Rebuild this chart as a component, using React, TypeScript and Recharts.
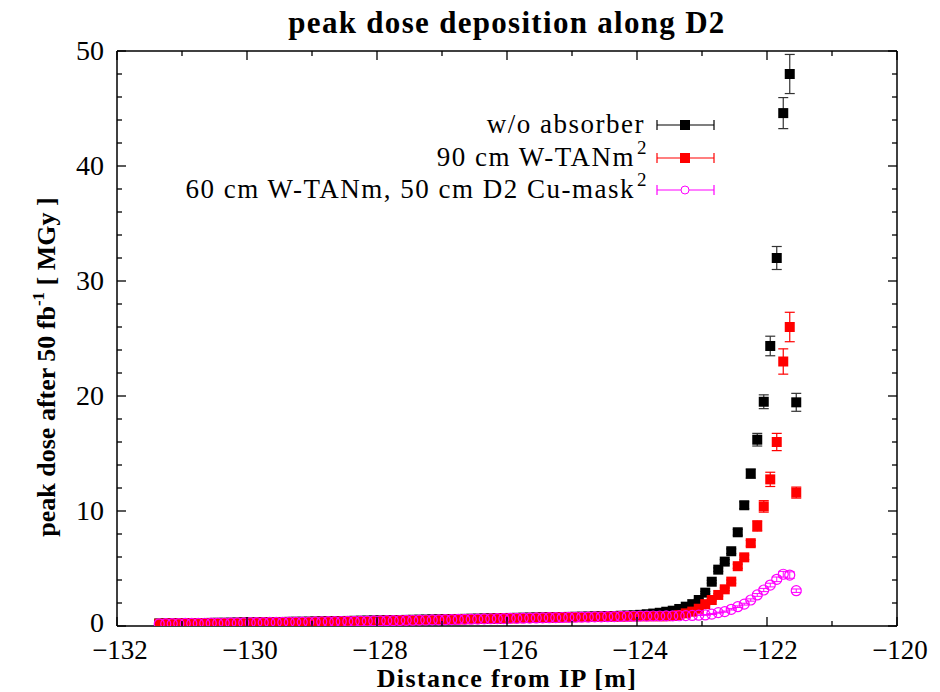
import React from 'react';
import { ScatterChart, Scatter, XAxis, YAxis, ErrorBar } from 'recharts';

// Distance from IP [m] (bin centres)
const positions = [
  -131.35, -131.25, -131.15, -131.05, -130.95, -130.85, -130.75, -130.65, -130.55, -130.45,
  -130.35, -130.25, -130.15, -130.05, -129.95, -129.85, -129.75, -129.65, -129.55, -129.45,
  -129.35, -129.25, -129.15, -129.05, -128.95, -128.85, -128.75, -128.65, -128.55, -128.45,
  -128.35, -128.25, -128.15, -128.05, -127.95, -127.85, -127.75, -127.65, -127.55, -127.45,
  -127.35, -127.25, -127.15, -127.05, -126.95, -126.85, -126.75, -126.65, -126.55, -126.45,
  -126.35, -126.25, -126.15, -126.05, -125.95, -125.85, -125.75, -125.65, -125.55, -125.45,
  -125.35, -125.25, -125.15, -125.05, -124.95, -124.85, -124.75, -124.65, -124.55, -124.45,
  -124.35, -124.25, -124.15, -124.05, -123.95, -123.85, -123.75, -123.65, -123.55, -123.45,
  -123.35, -123.25, -123.15, -123.05, -122.95, -122.85, -122.75, -122.65, -122.55, -122.45,
  -122.35, -122.25, -122.15, -122.05, -121.95, -121.85, -121.75, -121.65, -121.55,
];

// w/o absorber
const doseNoAbsorber = [
  0.22, 0.23, 0.23, 0.24, 0.24, 0.25, 0.26, 0.26, 0.27, 0.28,
  0.28, 0.29, 0.30, 0.31, 0.31, 0.32, 0.33, 0.34, 0.34, 0.35,
  0.36, 0.37, 0.37, 0.38, 0.39, 0.40, 0.41, 0.42, 0.43, 0.44,
  0.45, 0.46, 0.47, 0.48, 0.49, 0.50, 0.51, 0.52, 0.53, 0.54,
  0.55, 0.56, 0.57, 0.58, 0.59, 0.60, 0.61, 0.62, 0.63, 0.64,
  0.65, 0.66, 0.67, 0.68, 0.70, 0.71, 0.72, 0.73, 0.74, 0.75,
  0.76, 0.77, 0.78, 0.79, 0.80, 0.81, 0.82, 0.83, 0.84, 0.86,
  0.87, 0.89, 0.91, 0.93, 0.97, 1.02, 1.08, 1.15, 1.24, 1.33,
  1.48, 1.68, 1.9, 2.26, 2.9, 3.85, 4.9, 5.6, 6.5, 8.15,
  10.5, 13.25, 16.2, 19.5, 24.35, 32.0, 44.6, 48.0, 19.45,
];
const errNoAbsorber = [
  0.02, 0.02, 0.02, 0.02, 0.02, 0.02, 0.02, 0.02, 0.02, 0.02,
  0.02, 0.02, 0.02, 0.02, 0.02, 0.02, 0.02, 0.02, 0.02, 0.02,
  0.02, 0.02, 0.02, 0.02, 0.02, 0.02, 0.02, 0.02, 0.02, 0.02,
  0.02, 0.02, 0.02, 0.02, 0.02, 0.02, 0.02, 0.02, 0.02, 0.02,
  0.02, 0.02, 0.02, 0.02, 0.02, 0.02, 0.02, 0.02, 0.02, 0.02,
  0.03, 0.03, 0.03, 0.03, 0.03, 0.03, 0.03, 0.03, 0.03, 0.03,
  0.03, 0.03, 0.03, 0.03, 0.03, 0.03, 0.03, 0.03, 0.03, 0.03,
  0.03, 0.03, 0.03, 0.03, 0.03, 0.03, 0.04, 0.04, 0.05, 0.05,
  0.06, 0.07, 0.08, 0.09, 0.1, 0.12, 0.15, 0.17, 0.2, 0.25,
  0.3, 0.4, 0.55, 0.6, 0.85, 1.0, 1.35, 1.7, 0.78,
];

// 90 cm W-TANm^2
const doseW90 = [
  0.20, 0.21, 0.21, 0.22, 0.22, 0.23, 0.23, 0.24, 0.24, 0.25,
  0.26, 0.26, 0.27, 0.28, 0.28, 0.29, 0.30, 0.30, 0.31, 0.32,
  0.33, 0.33, 0.34, 0.35, 0.36, 0.37, 0.37, 0.38, 0.39, 0.40,
  0.41, 0.42, 0.43, 0.44, 0.45, 0.46, 0.47, 0.48, 0.49, 0.50,
  0.51, 0.52, 0.53, 0.54, 0.55, 0.56, 0.58, 0.59, 0.60, 0.61,
  0.62, 0.63, 0.65, 0.66, 0.67, 0.68, 0.69, 0.70, 0.71, 0.72,
  0.73, 0.74, 0.75, 0.76, 0.77, 0.77, 0.78, 0.79, 0.80, 0.80,
  0.81, 0.82, 0.83, 0.84, 0.85, 0.85, 0.85, 0.85, 0.85, 0.87,
  0.96, 1.1, 1.25, 1.5, 1.9, 2.26, 2.7, 3.19, 3.86, 5.2,
  5.97, 7.2, 8.7, 10.4, 12.75, 16.0, 23.0, 26.0, 11.6,
];
const errW90 = [
  0.02, 0.02, 0.02, 0.02, 0.02, 0.02, 0.02, 0.02, 0.02, 0.02,
  0.02, 0.02, 0.02, 0.02, 0.02, 0.02, 0.02, 0.02, 0.02, 0.02,
  0.02, 0.02, 0.02, 0.02, 0.02, 0.02, 0.02, 0.02, 0.02, 0.02,
  0.02, 0.02, 0.02, 0.02, 0.02, 0.02, 0.02, 0.02, 0.02, 0.02,
  0.02, 0.02, 0.02, 0.02, 0.02, 0.02, 0.02, 0.02, 0.02, 0.02,
  0.03, 0.03, 0.03, 0.03, 0.03, 0.03, 0.03, 0.03, 0.03, 0.03,
  0.03, 0.03, 0.03, 0.03, 0.03, 0.03, 0.03, 0.03, 0.03, 0.03,
  0.03, 0.03, 0.03, 0.03, 0.03, 0.03, 0.03, 0.03, 0.03, 0.03,
  0.04, 0.04, 0.05, 0.06, 0.07, 0.08, 0.1, 0.12, 0.14, 0.18,
  0.2, 0.25, 0.45, 0.5, 0.62, 0.75, 1.1, 1.28, 0.48,
];

// 60 cm W-TANm, 50 cm D2 Cu-mask^2
const doseW60Cu = [
  0.19, 0.20, 0.21, 0.21, 0.22, 0.23, 0.23, 0.24, 0.25, 0.25,
  0.26, 0.27, 0.27, 0.28, 0.29, 0.29, 0.30, 0.31, 0.31, 0.32,
  0.33, 0.34, 0.34, 0.35, 0.36, 0.37, 0.38, 0.38, 0.39, 0.40,
  0.41, 0.42, 0.43, 0.44, 0.45, 0.46, 0.47, 0.48, 0.49, 0.50,
  0.51, 0.52, 0.53, 0.54, 0.55, 0.56, 0.57, 0.58, 0.59, 0.60,
  0.62, 0.63, 0.64, 0.65, 0.66, 0.67, 0.68, 0.69, 0.70, 0.71,
  0.72, 0.73, 0.74, 0.75, 0.76, 0.77, 0.78, 0.79, 0.80, 0.81,
  0.82, 0.83, 0.84, 0.85, 0.86, 0.86, 0.87, 0.87, 0.88, 0.88,
  0.89, 0.90, 0.92, 0.94, 0.96, 1.04, 1.16, 1.25, 1.45, 1.68,
  1.9, 2.26, 2.7, 3.13, 3.56, 4.06, 4.5, 4.43, 3.07,
];
const errW60Cu = [
  0.02, 0.02, 0.02, 0.02, 0.02, 0.02, 0.02, 0.02, 0.02, 0.02,
  0.02, 0.02, 0.02, 0.02, 0.02, 0.02, 0.02, 0.02, 0.02, 0.02,
  0.02, 0.02, 0.02, 0.02, 0.02, 0.02, 0.02, 0.02, 0.02, 0.02,
  0.02, 0.02, 0.02, 0.02, 0.02, 0.02, 0.02, 0.02, 0.02, 0.02,
  0.02, 0.02, 0.02, 0.02, 0.02, 0.02, 0.02, 0.02, 0.02, 0.02,
  0.02, 0.02, 0.02, 0.02, 0.02, 0.02, 0.02, 0.02, 0.02, 0.02,
  0.03, 0.03, 0.03, 0.03, 0.03, 0.03, 0.03, 0.03, 0.03, 0.03,
  0.03, 0.03, 0.03, 0.03, 0.03, 0.03, 0.03, 0.03, 0.03, 0.03,
  0.03, 0.03, 0.03, 0.03, 0.03, 0.04, 0.04, 0.05, 0.06, 0.07,
  0.08, 0.1, 0.12, 0.14, 0.16, 0.2, 0.25, 0.28, 0.15,
];

const xTicks = [-132, -131, -130, -129, -128, -127, -126, -125, -124, -123, -122, -121, -120];
const xTickLabels = [-132, -130, -128, -126, -124, -122, -120];
const yTicks = [0, 2, 4, 6, 8, 10, 12, 14, 16, 18, 20, 22, 24, 26, 28, 30, 32, 34, 36, 38, 40, 42, 44, 46, 48, 50];
const yTickLabels = [0, 10, 20, 30, 40, 50];

const seriesNames = ['w/o absorber', '90 cm W-TANm', '60 cm W-TANm, 50 cm D2 Cu-mask'];
const COLORS = { black: '#000000', red: '#ff0000', magenta: '#ff00ff' };

const build = (vals: number[], errs: number[]) =>
  positions.map((x, i) => ({ x, y: vals[i], e: errs[i] }));

const dataBlack = build(doseNoAbsorber, errNoAbsorber);
const dataRed = build(doseW90, errW90);
const dataMagenta = build(doseW60Cu, errW60Cu);

const FONT = '"Liberation Serif", "Times New Roman", serif';
const TICK_FONT_SIZE = 27;

const fmt = (v: number) => (v < 0 ? '\u2212' + Math.abs(v) : String(v));

const BottomTick = (props: any) => {
  const { x, y, payload } = props;
  const major = xTickLabels.includes(payload.value);
  return (
    <g>
      <line x1={x} x2={x} y1={y} y2={y - (major ? 9 : 5)} stroke="#000" strokeWidth={1.3} />
      {major && (
        <text x={x + 3} y={y + 33} textAnchor="middle" fontFamily={FONT} fontSize={TICK_FONT_SIZE} fill="#000">
          {fmt(payload.value)}
        </text>
      )}
    </g>
  );
};

const TopTick = (props: any) => {
  const { x, y, payload } = props;
  const major = xTickLabels.includes(payload.value);
  return <line x1={x} x2={x} y1={y} y2={y + (major ? 9 : 5)} stroke="#000" strokeWidth={1.3} />;
};

const LeftTick = (props: any) => {
  const { x, y, payload } = props;
  const major = yTickLabels.includes(payload.value);
  return (
    <g>
      <line x1={x} x2={x + (major ? 9 : 5)} y1={y} y2={y} stroke="#000" strokeWidth={1.3} />
      {major && (
        <text
          x={x - 13}
          y={y + (payload.value === 0 ? 6 : 9)}
          textAnchor="end"
          fontFamily={FONT}
          fontSize={TICK_FONT_SIZE + 1}
          fill="#000"
        >
          {payload.value}
        </text>
      )}
    </g>
  );
};

const RightTick = (props: any) => {
  const { x, y, payload } = props;
  const major = yTickLabels.includes(payload.value);
  return <line x1={x} x2={x - (major ? 9 : 5)} y1={y} y2={y} stroke="#000" strokeWidth={1.3} />;
};

const SquareShape = (color: string) => (props: any) => {
  const { cx, cy } = props;
  if (cx == null || cy == null) return <g />;
  return <rect x={cx - 5} y={cy - 5} width={10} height={10} fill={color} />;
};

const CircleShape = (color: string) => (props: any) => {
  const { cx, cy } = props;
  if (cx == null || cy == null) return <g />;
  return <circle cx={cx} cy={cy} r={5} fill="none" stroke={color} strokeWidth={1.2} />;
};

const LegendRow = ({ y, label, color, kind }: { y: number; label: string; color: string; kind: 'sq' | 'circ' | 'sqsup' }) => (
  <g>
    <text
      x={kind === 'sq' ? 645 : 635}
      y={y + 8}
      textAnchor="end"
      fontFamily={FONT}
      fontSize={27}
      letterSpacing={1.5}
      fill="#000"
    >
      {label}
    </text>
    {kind !== 'sq' && (
      <text x={637} y={y - 4} fontFamily={FONT} fontSize={19} fill="#000">2</text>
    )}
    <line x1={657} x2={714} y1={y} y2={y} stroke={color} strokeWidth={1.2} />
    <line x1={657} x2={657} y1={y - 5} y2={y + 5} stroke={color} strokeWidth={1.2} />
    <line x1={714} x2={714} y1={y - 5} y2={y + 5} stroke={color} strokeWidth={1.2} />
    {kind === 'circ' ? (
      <circle cx={685} cy={y} r={4} fill="#fff" stroke={color} strokeWidth={1} />
    ) : (
      <rect x={680} y={y - 5} width={10} height={10} fill={color} />
    )}
  </g>
);

export default function App() {
  return (
    <div style={{ position: 'absolute', left: 0, top: 0, width: 940, height: 692, background: '#fff' }}>
      <ScatterChart width={940} height={692} margin={{ top: 41, right: 33, bottom: 16, left: 57 }}>
        <XAxis
          type="number"
          dataKey="x"
          domain={[-132, -120]}
          ticks={xTicks}
          interval={0}
          allowDataOverflow
          height={50}
          tickSize={0}
          tickMargin={0}
          tickLine={false}
          axisLine={{ stroke: '#000', strokeWidth: 1.5 }}
          tick={<BottomTick />}
        />
        <XAxis
          xAxisId="top"
          orientation="top"
          type="number"
          dataKey="x"
          domain={[-132, -120]}
          ticks={xTicks}
          interval={0}
          allowDataOverflow
          height={10}
          tickSize={0}
          tickMargin={0}
          tickLine={false}
          axisLine={{ stroke: '#000', strokeWidth: 1.5 }}
          tick={<TopTick />}
        />
        <YAxis
          type="number"
          dataKey="y"
          domain={[0, 50]}
          ticks={yTicks}
          interval={0}
          allowDataOverflow
          width={60}
          tickSize={0}
          tickMargin={0}
          tickLine={false}
          axisLine={{ stroke: '#000', strokeWidth: 1.5 }}
          tick={<LeftTick />}
        />
        <YAxis
          yAxisId="right"
          orientation="right"
          type="number"
          dataKey="y"
          domain={[0, 50]}
          ticks={yTicks}
          interval={0}
          allowDataOverflow
          width={10}
          tickSize={0}
          tickMargin={0}
          tickLine={false}
          axisLine={{ stroke: '#000', strokeWidth: 1.5 }}
          tick={<RightTick />}
        />
        <Scatter name={seriesNames[0]} data={dataBlack} shape={SquareShape(COLORS.black)} isAnimationActive={false}>
          <ErrorBar dataKey="e" direction="y" width={5} stroke="#333" strokeWidth={1.2} isAnimationActive={false} />
        </Scatter>
        <Scatter name={seriesNames[1]} data={dataRed} shape={SquareShape(COLORS.red)} isAnimationActive={false}>
          <ErrorBar dataKey="e" direction="y" width={5} stroke={COLORS.red} strokeWidth={1.2} isAnimationActive={false} />
        </Scatter>
        <Scatter name={seriesNames[2]} data={dataMagenta} shape={CircleShape(COLORS.magenta)} isAnimationActive={false}>
          <ErrorBar dataKey="e" direction="y" width={5} stroke={COLORS.magenta} strokeWidth={1} isAnimationActive={false} />
        </Scatter>
      </ScatterChart>
      <svg width={940} height={692} style={{ position: 'absolute', left: 0, top: 0, pointerEvents: 'none' }}>
        <text
          x={507}
          y={33}
          textAnchor="middle"
          fontFamily={FONT}
          fontWeight="bold"
          fontSize={31}
          letterSpacing={1.3}
          fill="#000"
        >
          peak dose deposition along D2
        </text>
        <text
          x={507}
          y={687}
          textAnchor="middle"
          fontFamily={FONT}
          fontWeight="bold"
          fontSize={26}
          letterSpacing={1.4}
          fill="#000"
        >
          Distance from IP [m]
        </text>
        <text
          transform="translate(55, 367) rotate(-90)"
          textAnchor="middle"
          fontFamily={FONT}
          fontWeight="bold"
          fontSize={26}
          fill="#000"
        >
          <tspan>peak dose after 50 fb</tspan>
          <tspan dy={-11} fontSize={17}>-1</tspan>
          <tspan dy={11}> [ MGy ]</tspan>
        </text>
        <LegendRow y={125} label={seriesNames[0]} color={COLORS.black} kind="sq" />
        <LegendRow y={158} label={seriesNames[1]} color={COLORS.red} kind="sqsup" />
        <LegendRow y={190} label={seriesNames[2]} color={COLORS.magenta} kind="circ" />
      </svg>
    </div>
  );
}
